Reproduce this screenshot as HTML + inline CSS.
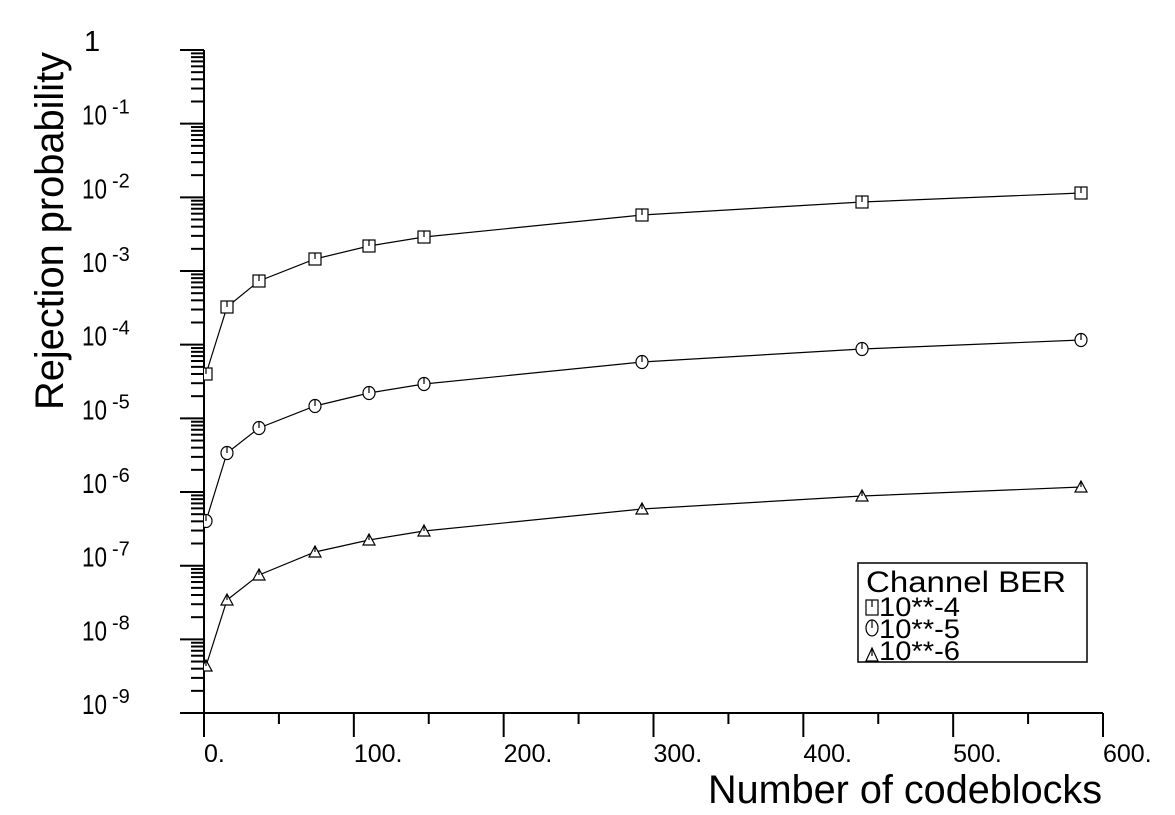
<!DOCTYPE html>
<html><head><meta charset="utf-8"><style>
html,body{margin:0;padding:0;background:#fff;}
svg{display:block;font-family:"Liberation Sans",sans-serif;}
</style></head><body>
<svg id="s" width="1175" height="815" viewBox="0 0 1175 815" xmlns="http://www.w3.org/2000/svg">
<defs><clipPath id="c"><rect x="204" y="0" width="971" height="713"/></clipPath></defs>
<g id="ax" stroke="#000" stroke-width="2" fill="none"></g>
<g id="lab" fill="#000"></g>
<g id="ser" stroke="#000" stroke-width="1.2" fill="none" clip-path="url(#c)"></g>
<rect x="858" y="563" width="229" height="99" fill="#fff" stroke="#000" stroke-width="1.5"/>
<text x="866" y="592" font-size="30" textLength="200" lengthAdjust="spacingAndGlyphs">Channel BER</text>
<g stroke="#000" stroke-width="1.2" fill="none">
<rect x="866" y="600" width="12" height="15"/><line x1="872" y1="600" x2="872" y2="607"/>
<ellipse cx="872" cy="628" rx="6" ry="8"/><line x1="872" y1="620" x2="872" y2="628"/>
<path d="M866 661 L872 648 L878 661 Z"/><line x1="872" y1="648" x2="872" y2="656"/>
</g>
<g font-size="27">
<text x="879" y="616" textLength="81" lengthAdjust="spacingAndGlyphs">10**-4</text>
<text x="879" y="638" textLength="81" lengthAdjust="spacingAndGlyphs">10**-5</text>
<text x="879" y="660" textLength="81" lengthAdjust="spacingAndGlyphs">10**-6</text>
</g>
<text x="708" y="803" font-size="40" textLength="394" lengthAdjust="spacingAndGlyphs">Number of codeblocks</text>
<text transform="translate(63,410) rotate(-90)" font-size="40" textLength="358" lengthAdjust="spacingAndGlyphs">Rejection probability</text>
</svg>
<script>
var NS="http://www.w3.org/2000/svg";
function el(p,t,a,txt){var e=document.createElementNS(NS,t);for(var k in a)e.setAttribute(k,a[k]);if(txt!=null)e.textContent=txt;p.appendChild(e);return e;}
var ax=document.getElementById('ax'),lab=document.getElementById('lab'),ser=document.getElementById('ser');
var D=73.67,Y0=50;
el(ax,'line',{x1:204,y1:50,x2:204,y2:737});
el(ax,'line',{x1:180,y1:713,x2:1103,y2:713});
for(var n=0;n<=9;n++){
  var y=Y0+n*D;
  el(ax,'line',{x1:180,y1:y,x2:204,y2:y});
  if(n<9){for(var m=2;m<=9;m++){var yy=Y0+(n+1)*D-D*Math.log10(m);el(ax,'line',{x1:191,y1:yy,x2:204,y2:yy});}}
  if(n==0){el(lab,'text',{x:84,y:y+1,'font-size':29},'1');}
  else{
    el(lab,'text',{x:82,y:y+1,'font-size':28,textLength:25,lengthAdjust:'spacingAndGlyphs'},'10');
    el(lab,'text',{x:112,y:y-10,'font-size':20},'-'+n);
  }
}
var sx=(1103-204)/600;
for(var v=0;v<=600;v+=50){
  var x=204+v*sx,maj=(v%100==0);
  el(ax,'line',{x1:x,y1:713,x2:x,y2:maj?737:724});
  if(maj)el(lab,'text',{x:x,y:762,'font-size':25},v+'.');
}
var X=[206,227,259,315,369,424,642,862,1081];
var S=[[374,307,281,259,246,237,215,202,193],[521,453,428,406,393,384,362,349,340],[666,600,575,552,540,531,509,496,487]];
S.forEach(function(ys,i){
  var d='';X.forEach(function(x,j){d+=(j?'L':'M')+x+' '+ys[j]+' ';});
  el(ser,'path',{d:d});
  X.forEach(function(x,j){var y=ys[j];
    if(i==0){el(ser,'rect',{x:x-6,y:y-6,width:12,height:12,fill:'#fff'});}
    else if(i==1){el(ser,'ellipse',{cx:x,cy:y,rx:6,ry:6.5,fill:'#fff'});}
    else{el(ser,'path',{d:'M'+(x-6)+' '+(y+5)+' L'+x+' '+(y-6)+' L'+(x+6)+' '+(y+5)+' Z',fill:'#fff'});}
    el(ser,'line',{x1:x,y1:y-6,x2:x,y2:y});
  });
});
</script>
</body></html>
